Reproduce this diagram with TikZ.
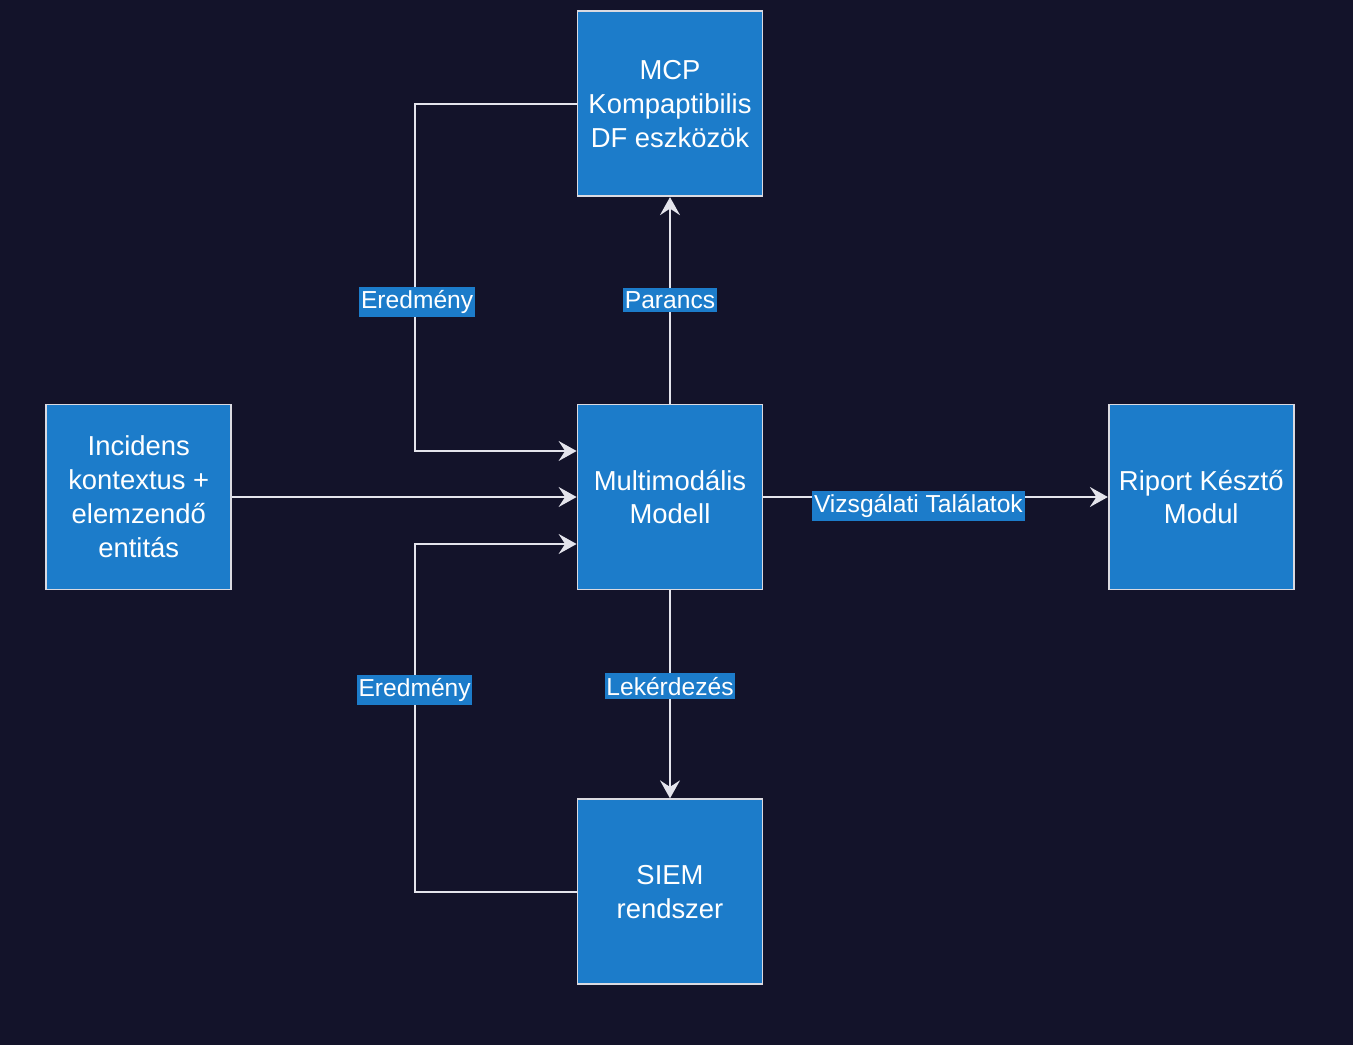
\documentclass[tikz,border=0pt]{standalone}
\usepackage{fontspec}
\setmainfont{Liberation Sans}
\usepackage{xcolor}
\usetikzlibrary{arrows.meta, positioning, backgrounds}
\definecolor{bgnavy}{HTML}{13132A}
\definecolor{boxblue}{HTML}{1C7CCA}
\definecolor{edgegray}{HTML}{E4E4EC}
\tikzstyle{block} = [rectangle, minimum width=3.7cm, minimum height=3.7cm, align=center,
                     draw=edgegray!90!gray, line width=1pt, fill=boxblue, text=white,
                     font=\fontsize{15.6}{19.3}\selectfont]
\tikzstyle{tag}   = [fill=boxblue, text=white, inner xsep=1pt, inner ysep=2pt,
                     font=\fontsize{14}{16}\selectfont]
\tikzstyle{arrow} = [-{Stealth[length=3.6mm, width=4mm, inset=1.3mm]}, line width=1.1pt, draw=edgegray]

\begin{document}
\begin{tikzpicture}[node distance=4.13cm and 6.89cm]
    \fill[bgnavy] (-13.4,-10.96) rectangle (13.66,9.94);
    \useasboundingbox (-13.4,-10.96) rectangle (13.66,9.94);

    \node (multi) [block] at (0,0) {Multimodális\\Modell};
    \node (mcp) [block, above=of multi] {MCP\\Kompaptibilis\\DF eszközök};
    \node (siem) [block, below=4.16cm of multi] {SIEM\\rendszer};
    \node (incid) [block, left=of multi] {Incidens\\kontextus +\\elemzendő\\entitás};
    \node (riport) [block, right=of multi] {Riport Késztő\\Modul};

    \draw[arrow] (mcp.west) -- ++(-3.24,0) |- node[pos=0.285, tag, xshift=0.05cm] {Eredmény} ([yshift=0.92cm]multi.west);
    \draw[arrow] (multi) -- node[tag] {Parancs} (mcp);
    \draw[arrow] (incid) -- (multi);
    \draw[arrow] (multi) -- node[pos=0.45, tag, yshift=-0.18cm] {Vizsgálati Találatok} (riport);
    \draw[arrow] (multi) -- node[pos=0.46, tag] {Lekérdezés} (siem);
    \draw[arrow] (siem.west) -- ++(-3.24,0) |- node[pos=0.29, tag] {Eredmény} ([yshift=-0.94cm]multi.west);
\end{tikzpicture}
\end{document}
